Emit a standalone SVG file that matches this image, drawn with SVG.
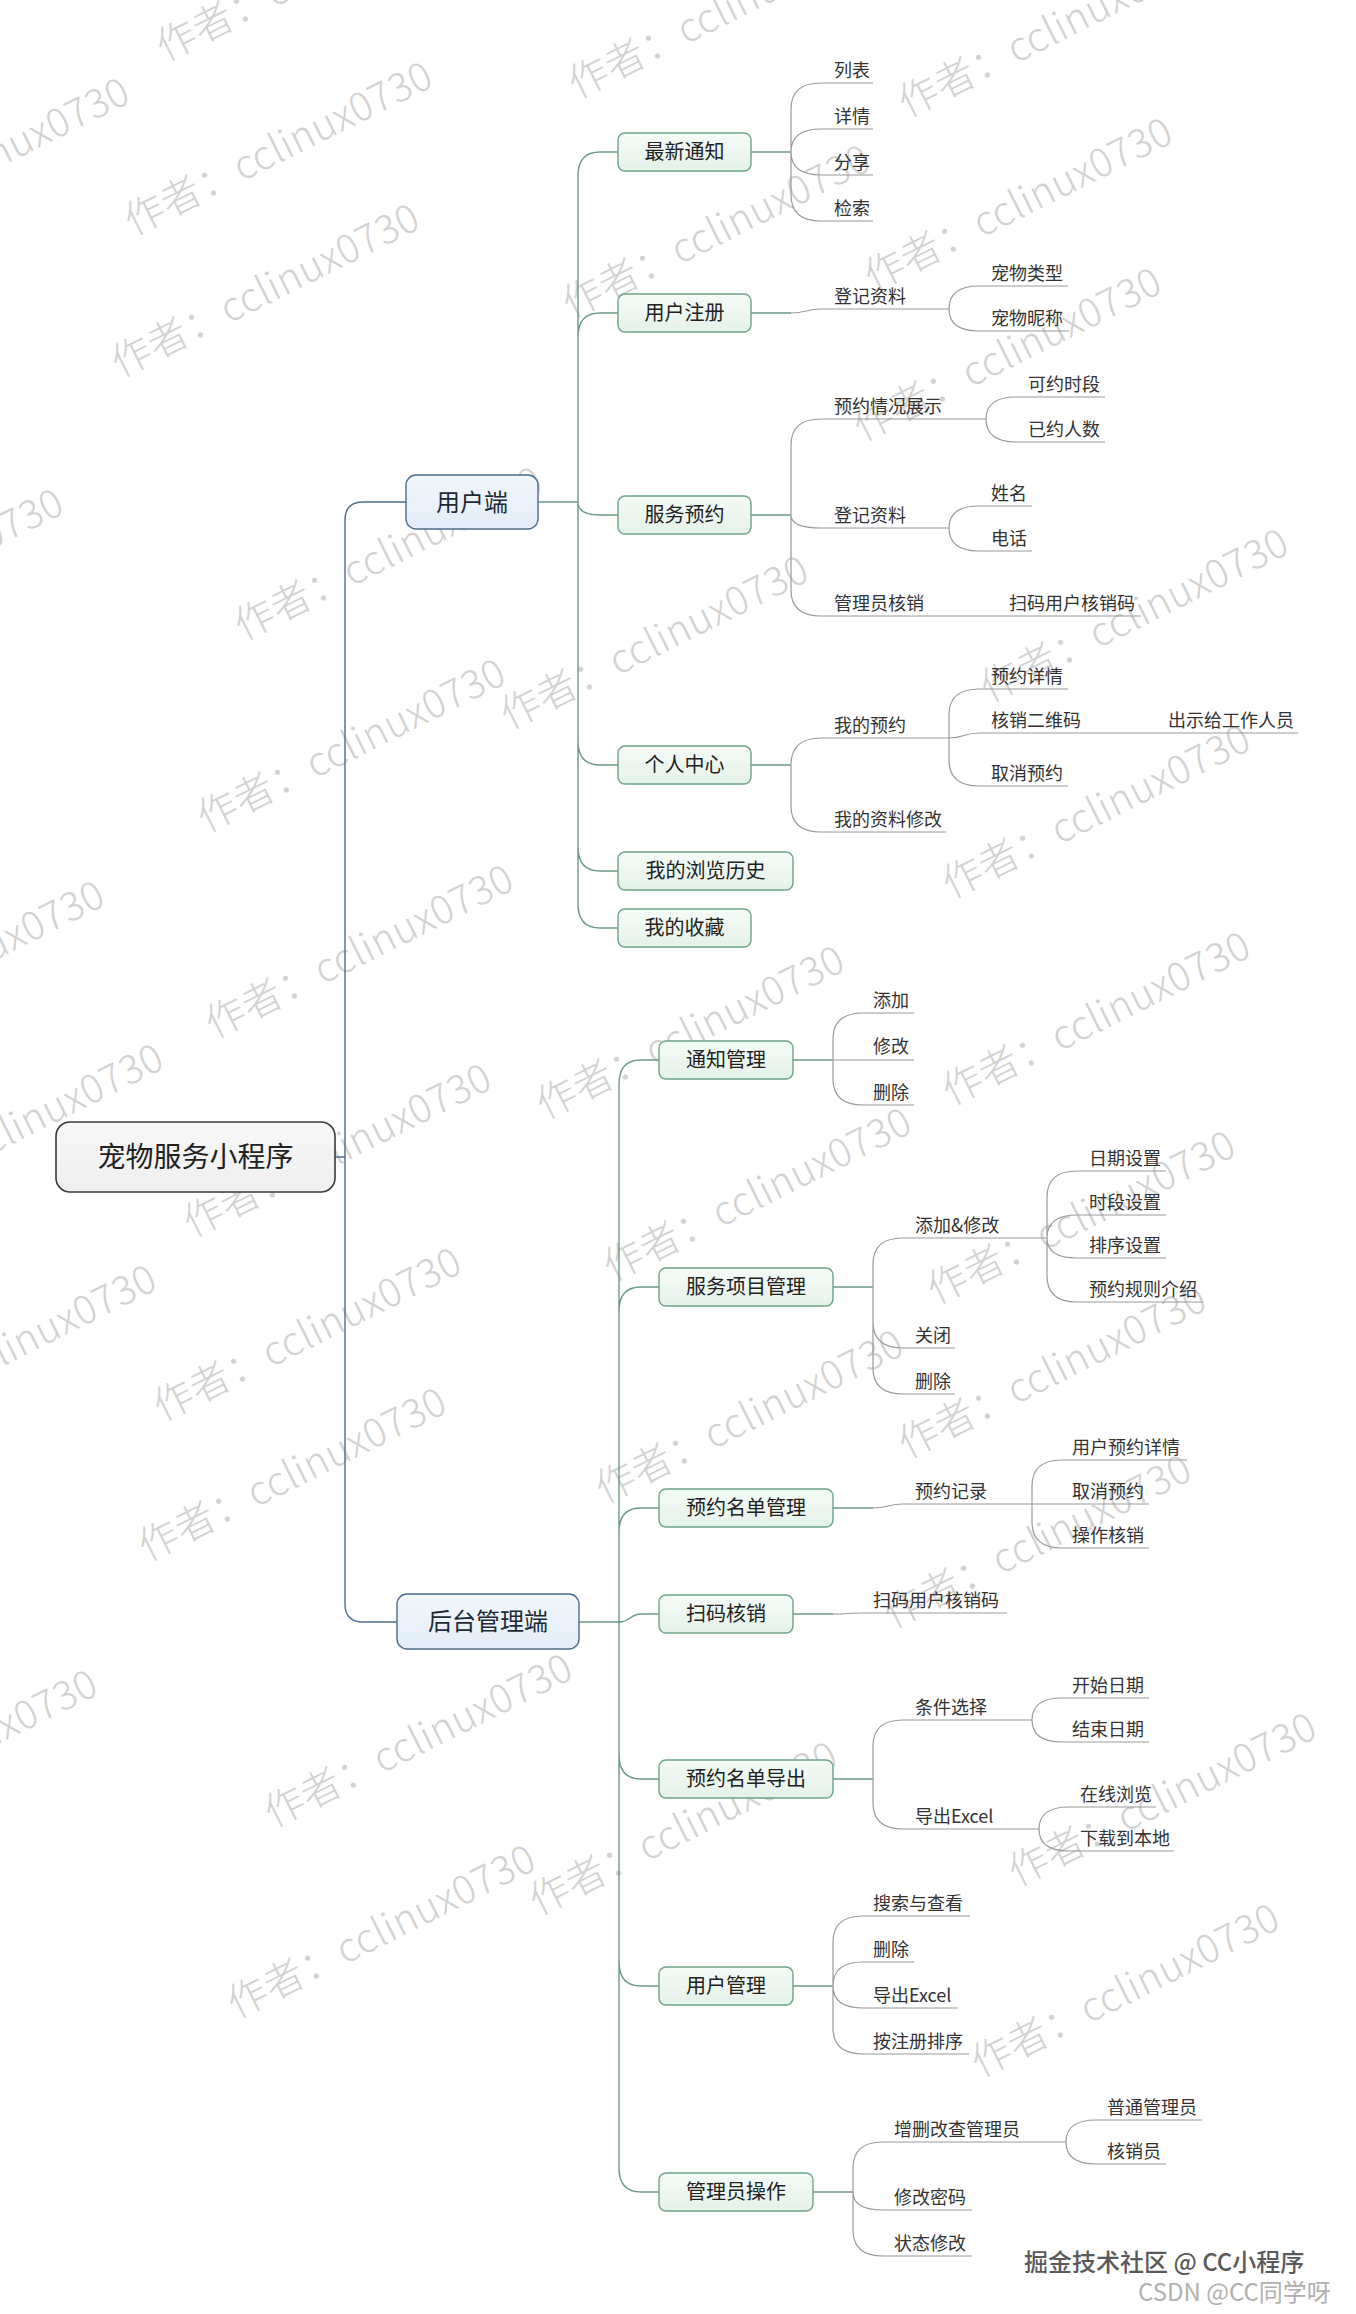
<svg xmlns="http://www.w3.org/2000/svg" width="1356" height="2314" viewBox="0 0 1356 2314">
<defs>
<linearGradient id="gGreen" x1="0" y1="0" x2="0" y2="1"><stop offset="0" stop-color="#f5fbf7"/><stop offset="1" stop-color="#e4f2e9"/></linearGradient>
<linearGradient id="gBlue" x1="0" y1="0" x2="0" y2="1"><stop offset="0" stop-color="#f2f7fc"/><stop offset="1" stop-color="#e3edf8"/></linearGradient>
<linearGradient id="gRoot" x1="0" y1="0" x2="0" y2="1"><stop offset="0" stop-color="#f8f8f8"/><stop offset="1" stop-color="#efefef"/></linearGradient>
</defs>
<style>
text{font-family:"Noto Sans CJK SC","Microsoft YaHei",sans-serif;}
.wm{font-size:40px;fill:#d2d2d2;font-weight:300;}
.root{fill:url(#gRoot);stroke:#3a3a3a;stroke-width:1.6;}
.l1{fill:url(#gBlue);stroke:#4c6d8e;stroke-width:1.4;}
.l2{fill:url(#gGreen);stroke:#6ea488;stroke-width:1.4;}
.t0{font-size:28px;fill:#222;text-anchor:middle;}
.t1{font-size:24px;fill:#1e2a36;text-anchor:middle;}
.t2{font-size:20px;fill:#222;text-anchor:middle;}
.lf{font-size:18px;fill:#333;}
.c0{fill:none;stroke:#4f6e8e;stroke-width:1.4;}
.c1{fill:none;stroke:#6b9a84;stroke-width:1.4;}
.c2{fill:none;stroke:#9a9a9a;stroke-width:1.2;}
.ft1{font-size:24px;fill:#5a5a5a;font-weight:500;}
.ft2{font-size:24px;fill:#b0b0b0;}
</style>
<rect width="1356" height="2314" fill="#ffffff"/>
<g id="watermark">
<text class="wm" x="165" y="62" textLength="338" transform="rotate(-26.5 165 62)">作者：cclinux0730</text>
<text class="wm" x="-170" y="252" textLength="338" transform="rotate(-26.5 -170 252)">作者：cclinux0730</text>
<text class="wm" x="133" y="236" textLength="338" transform="rotate(-26.5 133 236)">作者：cclinux0730</text>
<text class="wm" x="577" y="99" textLength="338" transform="rotate(-26.5 577 99)">作者：cclinux0730</text>
<text class="wm" x="907" y="118" textLength="338" transform="rotate(-26.5 907 118)">作者：cclinux0730</text>
<text class="wm" x="120" y="378" textLength="338" transform="rotate(-26.5 120 378)">作者：cclinux0730</text>
<text class="wm" x="571" y="319" textLength="338" transform="rotate(-26.5 571 319)">作者：cclinux0730</text>
<text class="wm" x="873" y="292" textLength="338" transform="rotate(-26.5 873 292)">作者：cclinux0730</text>
<text class="wm" x="-236" y="663" textLength="338" transform="rotate(-26.5 -236 663)">作者：cclinux0730</text>
<text class="wm" x="243" y="641" textLength="338" transform="rotate(-26.5 243 641)">作者：cclinux0730</text>
<text class="wm" x="862" y="442" textLength="338" transform="rotate(-26.5 862 442)">作者：cclinux0730</text>
<text class="wm" x="509" y="730" textLength="338" transform="rotate(-26.5 509 730)">作者：cclinux0730</text>
<text class="wm" x="989" y="703" textLength="338" transform="rotate(-26.5 989 703)">作者：cclinux0730</text>
<text class="wm" x="206" y="833" textLength="338" transform="rotate(-26.5 206 833)">作者：cclinux0730</text>
<text class="wm" x="951" y="899" textLength="338" transform="rotate(-26.5 951 899)">作者：cclinux0730</text>
<text class="wm" x="-195" y="1055" textLength="338" transform="rotate(-26.5 -195 1055)">作者：cclinux0730</text>
<text class="wm" x="214" y="1039" textLength="338" transform="rotate(-26.5 214 1039)">作者：cclinux0730</text>
<text class="wm" x="545" y="1120" textLength="338" transform="rotate(-26.5 545 1120)">作者：cclinux0730</text>
<text class="wm" x="951" y="1106" textLength="338" transform="rotate(-26.5 951 1106)">作者：cclinux0730</text>
<text class="wm" x="-136" y="1218" textLength="338" transform="rotate(-26.5 -136 1218)">作者：cclinux0730</text>
<text class="wm" x="192" y="1238" textLength="338" transform="rotate(-26.5 192 1238)">作者：cclinux0730</text>
<text class="wm" x="612" y="1282" textLength="338" transform="rotate(-26.5 612 1282)">作者：cclinux0730</text>
<text class="wm" x="936" y="1305" textLength="338" transform="rotate(-26.5 936 1305)">作者：cclinux0730</text>
<text class="wm" x="-143" y="1439" textLength="338" transform="rotate(-26.5 -143 1439)">作者：cclinux0730</text>
<text class="wm" x="162" y="1422" textLength="338" transform="rotate(-26.5 162 1422)">作者：cclinux0730</text>
<text class="wm" x="604" y="1504" textLength="338" transform="rotate(-26.5 604 1504)">作者：cclinux0730</text>
<text class="wm" x="907" y="1459" textLength="338" transform="rotate(-26.5 907 1459)">作者：cclinux0730</text>
<text class="wm" x="147" y="1562" textLength="338" transform="rotate(-26.5 147 1562)">作者：cclinux0730</text>
<text class="wm" x="892" y="1629" textLength="338" transform="rotate(-26.5 892 1629)">作者：cclinux0730</text>
<text class="wm" x="-202" y="1844" textLength="338" transform="rotate(-26.5 -202 1844)">作者：cclinux0730</text>
<text class="wm" x="273" y="1828" textLength="338" transform="rotate(-26.5 273 1828)">作者：cclinux0730</text>
<text class="wm" x="538" y="1916" textLength="338" transform="rotate(-26.5 538 1916)">作者：cclinux0730</text>
<text class="wm" x="1017" y="1887" textLength="338" transform="rotate(-26.5 1017 1887)">作者：cclinux0730</text>
<text class="wm" x="236" y="2019" textLength="338" transform="rotate(-26.5 236 2019)">作者：cclinux0730</text>
<text class="wm" x="980" y="2078" textLength="338" transform="rotate(-26.5 980 2078)">作者：cclinux0730</text>
</g>
<g id="connectors">
<path class="c0" d="M335 1157 H345 M345 1157 V520 Q345 502 363 502 H406 M345 1157 V1604 Q345 1622 363 1622 H397"/>
<path class="c1" d="M538 502 H578 M578 502 V176 Q578 152 600 152 H618 M578 502 V337 Q578 313 600 313 H618 M578 502 Q578 515 600 515 H618 M578 502 V741 Q578 765 600 765 H618 M578 502 V847 Q578 871 600 871 H618 M578 502 V904 Q578 928 600 928 H618"/>
<path class="c1" d="M579 1622 H619 M619 1622 V1084 Q619 1060 641 1060 H659 M619 1622 V1311 Q619 1287 641 1287 H659 M619 1622 V1532 Q619 1508 641 1508 H659 M619 1622 C630 1622 630 1614 641 1614 H659 M619 1622 V1755 Q619 1779 641 1779 H659 M619 1622 V1962 Q619 1986 641 1986 H659 M619 1622 V2168 Q619 2192 641 2192 H659"/>
<path class="c1" d="M751 152 H791 M751 313 H791 M751 515 H791 M751 765 H791 M793 1060 H833 M833 1287 H873 M833 1508 H873 M793 1614 H833 M833 1779 H873 M793 1986 H833 M813 2192 H853"/>
<path class="c2" d="M791 152 V109 Q791 83 821 83 H873 M791 152 Q791 129 821 129 H873 M791 152 Q791 175 821 175 H873 M791 152 V195 Q791 221 821 221 H873"/>
<path class="c2" d="M791 313 C806 313 806 309 821 309 H949 M949 309 Q949 286 979 286 H1068 M949 309 Q949 331 979 331 H1069"/>
<path class="c2" d="M791 515 V445 Q791 419 821 419 H986 M791 515 Q791 528 821 528 H949 M791 515 V590 Q791 616 821 616 H1141 M986 419 Q986 397 1016 397 H1105 M986 419 Q986 442 1016 442 H1105 M949 528 Q949 506 979 506 H1032 M949 528 Q949 551 979 551 H1032"/>
<path class="c2" d="M791 765 Q791 738 821 738 H949 M791 765 V806 Q791 832 821 832 H946 M949 738 V715 Q949 689 979 689 H1068 M949 738 C964 738 964 733 979 733 H1298 M949 738 V760 Q949 786 979 786 H1068"/>
<path class="c2" d="M833 1060 V1039 Q833 1013 863 1013 H914 M833 1060 H914 M833 1060 V1079 Q833 1105 863 1105 H914"/>
<path class="c2" d="M873 1287 V1264 Q873 1238 903 1238 H1047 M873 1287 V1322 Q873 1348 903 1348 H955 M873 1287 V1368 Q873 1394 903 1394 H955 M1047 1238 V1197 Q1047 1171 1077 1171 H1166 M1047 1238 Q1047 1215 1077 1215 H1166 M1047 1238 Q1047 1258 1077 1258 H1166 M1047 1238 V1276 Q1047 1302 1077 1302 H1203"/>
<path class="c2" d="M873 1508 C888 1508 888 1504 903 1504 H1032 M1032 1504 V1486 Q1032 1460 1062 1460 H1187 M1032 1504 H1149 M1032 1504 V1522 Q1032 1548 1062 1548 H1149"/>
<path class="c2" d="M833 1614 C848 1614 848 1613 863 1613 H1007"/>
<path class="c2" d="M873 1779 V1746 Q873 1720 903 1720 H1032 M873 1779 V1803 Q873 1829 903 1829 H1039 M1032 1720 Q1032 1698 1062 1698 H1149 M1032 1720 Q1032 1742 1062 1742 H1149 M1039 1829 Q1039 1807 1069 1807 H1156 M1039 1829 Q1039 1851 1069 1851 H1174"/>
<path class="c2" d="M833 1986 V1942 Q833 1916 863 1916 H970 M833 1986 Q833 1962 863 1962 H914 M833 1986 Q833 2008 863 2008 H958 M833 1986 V2028 Q833 2054 863 2054 H969"/>
<path class="c2" d="M853 2192 V2168 Q853 2142 883 2142 H1066 M853 2192 Q853 2210 883 2210 H972 M853 2192 V2230 Q853 2256 883 2256 H972 M1066 2142 Q1066 2120 1096 2120 H1202 M1066 2142 Q1066 2164 1096 2164 H1166"/>
</g>
<g id="root"><rect class="root" x="56" y="1122" width="279" height="70" rx="14"/><text class="t0" x="195.5" y="1167">宠物服务小程序</text></g>
<g id="n-user"><rect class="l1" x="406" y="475" width="132" height="54" rx="10"/><text class="t1" x="472" y="510.5">用户端</text></g>
<g id="n-admin"><rect class="l1" x="397" y="1594" width="182" height="55" rx="10"/><text class="t1" x="488" y="1630">后台管理端</text></g>
<g id="n-notice"><rect class="l2" x="618" y="133" width="133" height="38" rx="7"/><text class="t2" x="684.5" y="159">最新通知</text></g>
<g id="n-register"><rect class="l2" x="618" y="294" width="133" height="38" rx="7"/><text class="t2" x="684.5" y="320">用户注册</text></g>
<g id="n-booking"><rect class="l2" x="618" y="496" width="133" height="38" rx="7"/><text class="t2" x="684.5" y="522">服务预约</text></g>
<g id="n-center"><rect class="l2" x="618" y="746" width="133" height="38" rx="7"/><text class="t2" x="684.5" y="772">个人中心</text></g>
<g id="n-history"><rect class="l2" x="618" y="852" width="175" height="38" rx="7"/><text class="t2" x="705.5" y="878">我的浏览历史</text></g>
<g id="n-fav"><rect class="l2" x="618" y="909" width="133" height="38" rx="7"/><text class="t2" x="684.5" y="935">我的收藏</text></g>
<g id="n-noticeMgr"><rect class="l2" x="659" y="1041" width="134" height="38" rx="7"/><text class="t2" x="726" y="1067">通知管理</text></g>
<g id="n-serviceMgr"><rect class="l2" x="659" y="1268" width="174" height="38" rx="7"/><text class="t2" x="746" y="1294">服务项目管理</text></g>
<g id="n-listMgr"><rect class="l2" x="659" y="1489" width="174" height="38" rx="7"/><text class="t2" x="746" y="1515">预约名单管理</text></g>
<g id="n-scan"><rect class="l2" x="659" y="1595" width="134" height="38" rx="7"/><text class="t2" x="726" y="1621">扫码核销</text></g>
<g id="n-export"><rect class="l2" x="659" y="1760" width="174" height="38" rx="7"/><text class="t2" x="746" y="1786">预约名单导出</text></g>
<g id="n-userMgr"><rect class="l2" x="659" y="1967" width="134" height="38" rx="7"/><text class="t2" x="726" y="1993">用户管理</text></g>
<g id="n-adminOp"><rect class="l2" x="659" y="2173" width="154" height="38" rx="7"/><text class="t2" x="736" y="2199">管理员操作</text></g>
<g id="leaves">
<text class="lf" x="834" y="77">列表</text>
<text class="lf" x="834" y="123">详情</text>
<text class="lf" x="834" y="169">分享</text>
<text class="lf" x="834" y="215">检索</text>
<text class="lf" x="834" y="303">登记资料</text>
<text class="lf" x="991" y="280">宠物类型</text>
<text class="lf" x="991" y="325">宠物昵称</text>
<text class="lf" x="834" y="413">预约情况展示</text>
<text class="lf" x="1028" y="391">可约时段</text>
<text class="lf" x="1028" y="436">已约人数</text>
<text class="lf" x="834" y="522">登记资料</text>
<text class="lf" x="991" y="500">姓名</text>
<text class="lf" x="991" y="545">电话</text>
<text class="lf" x="834" y="610">管理员核销</text>
<text class="lf" x="1009" y="610">扫码用户核销码</text>
<text class="lf" x="834" y="732">我的预约</text>
<text class="lf" x="991" y="683">预约详情</text>
<text class="lf" x="991" y="727">核销二维码</text>
<text class="lf" x="1168" y="727">出示给工作人员</text>
<text class="lf" x="991" y="780">取消预约</text>
<text class="lf" x="834" y="826">我的资料修改</text>
<text class="lf" x="873" y="1007">添加</text>
<text class="lf" x="873" y="1053">修改</text>
<text class="lf" x="873" y="1099">删除</text>
<text class="lf" x="915" y="1232">添加&amp;修改</text>
<text class="lf" x="1089" y="1165">日期设置</text>
<text class="lf" x="1089" y="1209">时段设置</text>
<text class="lf" x="1089" y="1252">排序设置</text>
<text class="lf" x="1089" y="1296">预约规则介绍</text>
<text class="lf" x="915" y="1342">关闭</text>
<text class="lf" x="915" y="1388">删除</text>
<text class="lf" x="915" y="1498">预约记录</text>
<text class="lf" x="1072" y="1454">用户预约详情</text>
<text class="lf" x="1072" y="1498">取消预约</text>
<text class="lf" x="1072" y="1542">操作核销</text>
<text class="lf" x="873" y="1607">扫码用户核销码</text>
<text class="lf" x="915" y="1714">条件选择</text>
<text class="lf" x="1072" y="1692">开始日期</text>
<text class="lf" x="1072" y="1736">结束日期</text>
<text class="lf" x="915" y="1823">导出Excel</text>
<text class="lf" x="1080" y="1801">在线浏览</text>
<text class="lf" x="1080" y="1845">下载到本地</text>
<text class="lf" x="873" y="1910">搜索与查看</text>
<text class="lf" x="873" y="1956">删除</text>
<text class="lf" x="873" y="2002">导出Excel</text>
<text class="lf" x="873" y="2048">按注册排序</text>
<text class="lf" x="894" y="2136">增删改查管理员</text>
<text class="lf" x="1107" y="2114">普通管理员</text>
<text class="lf" x="1107" y="2158">核销员</text>
<text class="lf" x="894" y="2204">修改密码</text>
<text class="lf" x="894" y="2250">状态修改</text>
</g>
<g id="footer">
<text class="ft1" x="1024" y="2271">掘金技术社区 @ CC小程序</text>
<text class="ft2" x="1138" y="2301">CSDN @CC同学呀</text>
</g>
</svg>
